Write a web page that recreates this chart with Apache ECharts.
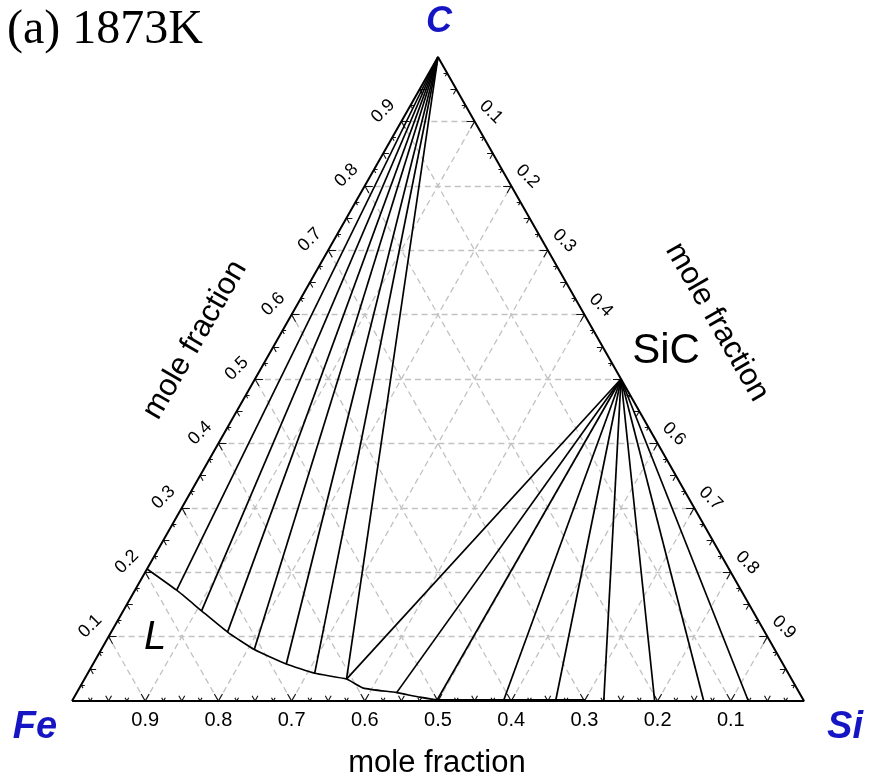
<!DOCTYPE html>
<html>
<head>
<meta charset="utf-8">
<script src="https://cdn.jsdelivr.net/npm/echarts@6/dist/echarts.min.js"></script>
<style>
  html, body { margin: 0; padding: 0; background: #ffffff; }
  #chart { width: 870px; height: 782px; }
</style>
</head>
<body>
<div id="chart"></div>
<script>
// Fe–Si–C isothermal section at 1873 K.
// Every composition is written as [x_C, x_Si] (mole fractions); x_Fe = 1 - x_C - x_Si.

const vertexNames = ['Fe', 'Si', 'C'];
const gridValues = [0.1, 0.2, 0.3, 0.4, 0.5, 0.6, 0.7, 0.8, 0.9];
const tickLabels = ['0.1', '0.2', '0.3', '0.4', '0.5', '0.6', '0.7', '0.8', '0.9'];

// Liquid boundary, from the Fe–C edge towards the Si-rich side
const liquidus = [
  [0.205, 0.000], [0.172, 0.057], [0.140, 0.107], [0.107, 0.159],
  [0.080, 0.209], [0.0575, 0.264], [0.043, 0.310], [0.034, 0.358],
  [0.020, 0.388], [0.013, 0.437], [0.006, 0.472], [0.002, 0.498],
  [0.002, 0.550], [0.002, 0.600], [0.002, 0.650], [0.002, 0.700]
];

// Liquid ends of the graphite + L tie lines
const graphiteTieEnds = [
  [0.172, 0.057], [0.140, 0.107], [0.107, 0.159], [0.080, 0.209],
  [0.0575, 0.264], [0.043, 0.310], [0.034, 0.358]
];

// Liquid ends of the SiC + L tie lines
const sicTieEnds = [
  [0.034, 0.358], [0.013, 0.437], [0.002, 0.498], [0.002, 0.589],
  [0.002, 0.660], [0.001, 0.726], [0.000, 0.796], [0.000, 0.863],
  [0.000, 0.924]
];

const graphiteCorner = [1.0, 0.0];
const sicPoint = [0.5, 0.5];

// ---------------------------------------------------------------------------
const cart = p => [p[1] + p[0] / 2, p[0]];          // [x_C, x_Si] -> plot coords
const seg = (a, b) => ({ coords: [cart(a), cart(b)] });

const gridSegs = [];
gridValues.forEach(k => {
  gridSegs.push(seg([k, 0], [k, 1 - k]));         // constant C
  gridSegs.push(seg([0, k], [1 - k, k]));         // constant Si
  gridSegs.push(seg([0, 1 - k], [1 - k, 0]));     // constant Fe
});

const tickSegs = [];
for (let i = 1; i < 40; i++) {
  const t = i / 40;
  const L = i % 4 === 0 ? 0.011 : (i % 2 === 0 ? 0.008 : 0.005);
  tickSegs.push(seg([0, t], [L, t]), seg([0, t], [L, t - L]));                 // Fe–Si edge
  tickSegs.push(seg([t, 0], [t, L]), seg([t, 0], [t - L, L]));                 // Fe–C edge
  tickSegs.push(seg([t, 1 - t], [t, 1 - t - L]), seg([t, 1 - t], [t - L, 1 - t])); // Si–C edge
}

const tieSegs = [
  ...graphiteTieEnds.map(p => seg(graphiteCorner, p)),
  ...sicTieEnds.map(p => seg(sicPoint, p))
];

const corners = { Fe: [0, 0], Si: [0, 1], C: [1, 0] };
const outline = [corners.Fe, corners.Si, corners.C, corners.Fe].map(cart);

const chart = echarts.init(document.getElementById('chart'), null, { renderer: 'canvas' });

chart.setOption({
  animation: false,
  backgroundColor: '#ffffff',
  grid: { left: 72, top: 57, width: 732, height: 644 },
  xAxis: { type: 'value', min: 0, max: 1, show: false },
  yAxis: { type: 'value', min: 0, max: 1, show: false },
  series: [
    {
      type: 'lines', coordinateSystem: 'cartesian2d', silent: true, z: 1,
      lineStyle: { color: '#c2c2c2', width: 1.3, type: [6, 4], opacity: 1 },
      data: gridSegs
    },
    {
      type: 'lines', coordinateSystem: 'cartesian2d', silent: true, z: 3,
      lineStyle: { color: '#111111', width: 1.1, opacity: 1 },
      data: tickSegs
    },
    {
      type: 'lines', coordinateSystem: 'cartesian2d', silent: true, z: 4,
      lineStyle: { color: '#000000', width: 1.7, opacity: 1 },
      data: tieSegs
    },
    {
      type: 'line', silent: true, z: 4, showSymbol: false, smooth: 0.15,
      lineStyle: { color: '#000000', width: 1.6 },
      data: liquidus.map(cart)
    },
    {
      type: 'line', silent: true, z: 5, showSymbol: false,
      lineStyle: { color: '#000000', width: 2 },
      data: outline
    }
  ]
});

// ---------------------------------------------------------------------------
// Text: tick labels, axis titles, corner names
const px = p => chart.convertToPixel({ gridIndex: 0 }, cart(p));
const pFe = px(corners.Fe), pSi = px(corners.Si), pC = px(corners.C);
const unit = (v) => { const l = Math.hypot(v[0], v[1]); return [v[0] / l, v[1] / l]; };
const dLeft = unit([pC[0] - pFe[0], pC[1] - pFe[1]]);
const nLeft = [dLeft[1], -dLeft[0]];
const dRight = unit([pSi[0] - pC[0], pSi[1] - pC[1]]);
const nRight = [dRight[1], -dRight[0]];

const sansFont = '"Liberation Sans", Arial, sans-serif';
const graphics = [];
const addText = (x, y, text, font, opts = {}) => {
  graphics.push({
    type: 'text', x, y, rotation: opts.rotation || 0, silent: true, z: 10,
    style: {
      text, font, fill: opts.fill || '#000000',
      align: 'center', verticalAlign: 'middle'
    }
  });
};

gridValues.forEach((v, i) => {
  const b = px([0, 1 - v]);          // Fe fraction along Fe–Si edge
  addText(b[0], b[1] + 19, tickLabels[i], '20px ' + sansFont);
  const l = px([v, 0]);              // C fraction along Fe–C edge
  addText(l[0] + nLeft[0] * 21, l[1] + nLeft[1] * 21, tickLabels[i], '18px ' + sansFont, { rotation: Math.PI / 4 });
  if (v !== 0.5) {                   // the SiC point sits at 0.5 on the Si–C edge
    const r = px([1 - v, v]);        // Si fraction along Si–C edge
    addText(r[0] + nRight[0] * 19, r[1] + nRight[1] * 19, tickLabels[i], '18px ' + sansFont, { rotation: -Math.PI / 4 });
  }
});

addText(437, 763, 'mole fraction', '31px ' + sansFont);
addText(195, 340, 'mole fraction', '31px ' + sansFont, { rotation: Math.PI / 3 });
addText(717, 322, 'mole fraction', '31px ' + sansFont, { rotation: -Math.PI / 3 });

const blue = '#1515c4';
addText(pC[0] + 1, pC[1] - 35, vertexNames[2], 'italic bold 36px ' + sansFont, { fill: blue });
addText(pFe[0] - 37, pFe[1] + 27, vertexNames[0], 'italic bold 38px ' + sansFont, { fill: blue });
addText(pSi[0] + 41, pSi[1] + 27, vertexNames[1], 'italic bold 38px ' + sansFont, { fill: blue });

addText(666, 351, 'SiC', '42px ' + sansFont);
addText(155, 638, 'L', 'italic 40px ' + sansFont);

graphics.push({
  type: 'text', x: 7, y: 30, silent: true, z: 10,
  style: { text: '(a) 1873K', font: '48px "Liberation Serif", "Times New Roman", serif', fill: '#000000', align: 'left', verticalAlign: 'middle' }
});

chart.setOption({ graphic: graphics });
</script>
</body>
</html>
